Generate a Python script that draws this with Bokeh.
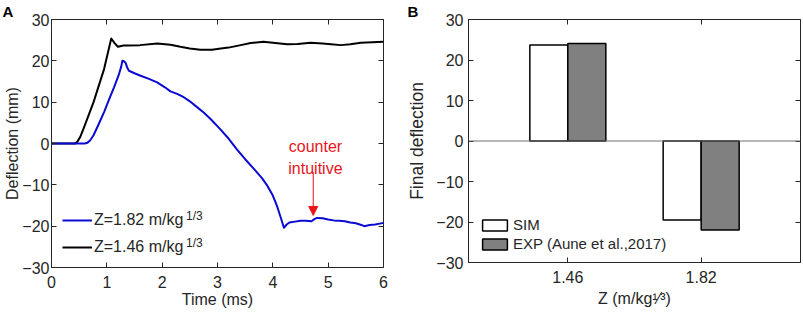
from bokeh.plotting import figure
from bokeh.models import (Range1d, FactorRange, LinearAxis, CategoricalAxis, FixedTicker,
                          Legend, LegendItem, Label, Arrow, NormalHead, Span, ColumnDataSource)
from bokeh.layouts import row, column
from bokeh.transform import dodge
from bokeh.embed import file_html
from bokeh.resources import INLINE

# ---------------- data ----------------
t_blue = [0, 0.6, 0.65, 0.7, 0.76, 0.85, 0.95, 1.05, 1.13, 1.22, 1.26, 1.28, 1.31, 1.34, 1.37, 1.4,
          1.5, 1.61, 1.75, 1.91, 2.05, 2.15, 2.27, 2.39, 2.5, 2.63, 2.75, 2.87, 3.04, 3.2, 3.35,
          3.5, 3.65, 3.8, 3.9, 4.0, 4.08, 4.15, 4.2, 4.25, 4.3, 4.4, 4.5, 4.6, 4.7, 4.75, 4.8,
          4.9, 5.0, 5.1, 5.2, 5.3, 5.4, 5.5, 5.6, 5.65, 5.75, 5.85, 6.0]
d_blue = [0, 0, 0.2, 0.8, 2.0, 4.6, 7.6, 11.0, 13.6, 16.8, 18.6, 20.0, 19.9, 19.5, 18.3, 17.6,
          17.0, 16.4, 15.7, 14.8, 13.6, 12.6, 12.0, 11.2, 10.2, 8.8, 7.5, 6.0, 3.6, 1.2, -1.4,
          -3.8, -6.0, -8.3, -10.2, -12.6, -15.3, -18.2, -20.4, -19.6, -19.1, -18.9, -18.7, -18.7,
          -18.8, -18.3, -18.0, -18.1, -18.4, -18.6, -18.7, -18.8, -19.1, -19.3, -19.7, -20.0,
          -19.7, -19.6, -19.2]

t_black = [0, 0.43, 0.47, 0.52, 0.6, 0.76, 0.95, 1.08, 1.14, 1.2, 1.3, 1.37, 1.6, 1.91, 2.15,
           2.33, 2.5, 2.69, 2.9, 3.06, 3.2, 3.42, 3.6, 3.83, 4.0, 4.26, 4.45, 4.68, 4.9, 5.05,
           5.23, 5.4, 5.59, 5.8, 6.0]
d_black = [0, 0, 0.5, 1.6, 4.3, 10.0, 18.0, 25.4, 24.3, 23.4, 23.7, 23.7, 23.8, 24.2, 23.9,
           23.4, 23.0, 22.7, 22.7, 23.0, 23.2, 23.8, 24.3, 24.6, 24.4, 24.0, 24.1, 24.4, 24.2,
           24.0, 23.8, 24.0, 24.4, 24.5, 24.6]

z_labels = ["1.46", "1.82"]
sim_final = [23.7, -19.5]
exp_final = [24.1, -22.0]

x_ticks_a = [0, 1, 2, 3, 4, 5, 6]
y_ticks = [-30, -20, -10, 0, 10, 20, 30]

# ---------------- style ----------------
FONT = "Liberation Sans"
AX = "#262626"
FS = "16px"


def style_axis(ax):
    ax.axis_line_color = AX
    ax.major_tick_line_color = AX
    ax.major_tick_in = 5
    ax.major_tick_out = 0
    ax.minor_tick_line_color = None
    ax.major_label_text_font = FONT
    ax.major_label_text_font_size = FS
    ax.major_label_text_color = AX
    ax.axis_label_text_font = FONT
    ax.axis_label_text_font_size = FS
    ax.axis_label_text_font_style = "normal"
    ax.axis_label_text_color = AX


def mirror_axis(ax):
    ax.axis_line_color = None
    ax.major_tick_line_color = AX
    ax.major_tick_in = 5
    ax.major_tick_out = 0
    ax.minor_tick_line_color = None
    ax.major_label_text_font_size = "0px"
    ax.major_label_text_color = None
    ax.major_label_standoff = 0
    ax.axis_label = None


def base_style(p, letter, offset):
    p.xgrid.visible = False
    p.ygrid.visible = False
    p.outline_line_color = AX
    p.outline_line_width = 1
    p.background_fill_color = "white"
    p.border_fill_color = "white"
    p.title.text = letter
    p.title.align = "left"
    p.title.offset = offset
    p.title.standoff = 0
    p.title.text_font = FONT
    p.title.text_font_size = "15px"
    p.title.text_font_style = "bold"
    p.title.text_color = "black"


# ---------------- panel A ----------------
pA = figure(width=400, height=316, x_range=Range1d(0, 6), y_range=Range1d(-30, 30),
            output_backend="svg", toolbar_location=None,
            min_border_left=51, min_border_right=17, min_border_top=17, min_border_bottom=49)
base_style(pA, "A", -49)
pA.xaxis.ticker = FixedTicker(ticks=x_ticks_a)
pA.yaxis.ticker = FixedTicker(ticks=y_ticks)
for ax in pA.xaxis + pA.yaxis:
    style_axis(ax)
pA.xaxis.axis_label = "Time (ms)"
pA.yaxis.axis_label = "Deflection (mm)"
pA.xaxis.major_label_standoff = 8
pA.xaxis.axis_label_standoff = 0
pA.yaxis.major_label_standoff = 2
pA.yaxis.axis_label_standoff = -2

ra = LinearAxis(ticker=FixedTicker(ticks=y_ticks))
mirror_axis(ra)
pA.add_layout(ra, "right")
ta = LinearAxis(ticker=FixedTicker(ticks=x_ticks_a))
mirror_axis(ta)
pA.add_layout(ta, "above")

r_black = pA.line(t_black, d_black, line_color="#000000", line_width=2, line_join="round")
r_blue = pA.line(t_blue, d_blue, line_color="#0a0ad2", line_width=2, line_join="round")

legA = Legend(items=[LegendItem(label="Z=1.82 m/kg", renderers=[r_blue]),
                     LegendItem(label="Z=1.46 m/kg", renderers=[r_black])],
              location=(11, 11), padding=0, margin=0, spacing=9,
              glyph_width=30, glyph_height=18, label_height=18, label_standoff=2,
              border_line_color=None, background_fill_alpha=0,
              label_text_font=FONT, label_text_font_size=FS, label_text_color=AX)
pA.add_layout(legA, "center")

for ysup in (-15.8, -22.3):
    pA.add_layout(Label(x=2.43, y=ysup, text="1/3", text_font=FONT, text_font_size="12px",
                        text_color=AX, text_baseline="top", text_align="left"))

RED = "#e8141c"
pA.add_layout(Label(x=4.77, y=-0.8, text="counter", text_font=FONT, text_font_size=FS,
                    text_color=RED, text_align="center", text_baseline="alphabetic"))
pA.add_layout(Label(x=4.77, y=-6.1, text="intuitive", text_font=FONT, text_font_size=FS,
                    text_color=RED, text_align="center", text_baseline="alphabetic"))
pA.add_layout(Arrow(x_start=4.73, y_start=-6.9, x_end=4.73, y_end=-17.4,
                    line_color=RED, line_width=1,
                    end=NormalHead(size=9, fill_color=RED, line_color=RED)))

# ---------------- panel B ----------------
srcB = ColumnDataSource(dict(z=z_labels, sim=sim_final, exp=exp_final))
pB = figure(width=403, height=316, x_range=FactorRange(factors=z_labels, range_padding=0.245),
            y_range=Range1d(-30, 30), output_backend="svg", toolbar_location=None,
            min_border_left=68, min_border_right=3, min_border_top=17, min_border_bottom=54)
base_style(pB, "B", -61)
pB.yaxis.ticker = FixedTicker(ticks=y_ticks)
for ax in pB.xaxis + pB.yaxis:
    style_axis(ax)
pB.yaxis.axis_label = "Final deflection"
pB.yaxis.axis_label_text_font_size = "17.5px"
pB.yaxis.major_label_standoff = 5
pB.yaxis.axis_label_standoff = 6
pB.xaxis.major_label_standoff = 8
pB.xaxis.axis_label = "Z (m/kg\u00b9\u2044\u00b3)"
pB.xaxis.axis_label_standoff = 4

rb = LinearAxis(ticker=FixedTicker(ticks=y_ticks))
mirror_axis(rb)
pB.add_layout(rb, "right")
tb = CategoricalAxis()
mirror_axis(tb)
pB.add_layout(tb, "above")

pB.add_layout(Span(location=0, dimension="width", line_color="#6e6e6e", line_width=1))

r_sim = pB.vbar(x=dodge("z", -0.1425, range=pB.x_range), top="sim", bottom=0, width=0.285,
                source=srcB, fill_color="white", line_color="black", line_width=1.5)
r_exp = pB.vbar(x=dodge("z", 0.1425, range=pB.x_range), top="exp", bottom=0, width=0.285,
                source=srcB, fill_color="#808080", line_color="black", line_width=1.5)

legB = Legend(items=[LegendItem(label="SIM", renderers=[r_sim]),
                     LegendItem(label="EXP (Aune et al.,2017)", renderers=[r_exp])],
              location=(11, 10), padding=0, margin=0, spacing=2,
              glyph_width=31, glyph_height=14, label_height=17, label_standoff=3,
              border_line_color=None, background_fill_alpha=0,
              label_text_font=FONT, label_text_font_size="15px", label_text_color=AX)
pB.add_layout(legB, "center")

layout = row(column(pA), column(pB))
open("out.html", "w").write(file_html(layout, INLINE))
